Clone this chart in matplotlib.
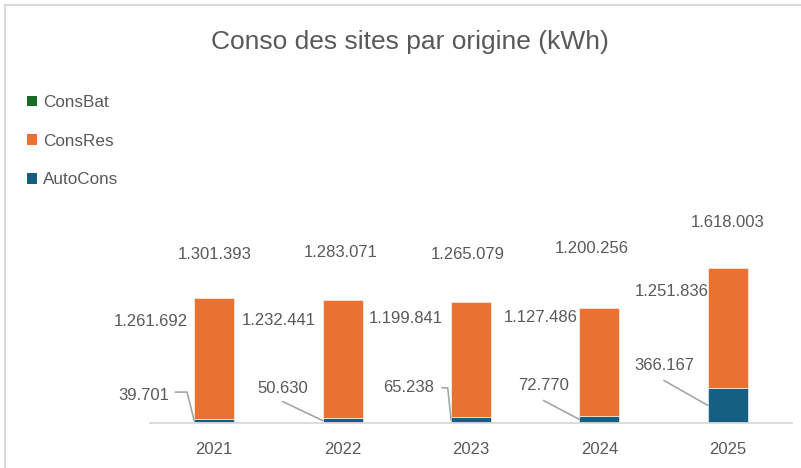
import matplotlib
matplotlib.use("Agg")
import matplotlib.pyplot as plt
from matplotlib.lines import Line2D
from matplotlib.patches import Patch
import numpy as np

# Données (kWh)
annees    = ["2021", "2022", "2023", "2024", "2025"]
autocons  = [39701, 50630, 65238, 72770, 366167]
consres   = [1261692, 1232441, 1199841, 1127486, 1251836]
consbat   = [0, 0, 0, 0, 0]

# Couleurs
C_BAT  = "#196B24"
C_RES  = "#E97132"
C_AUTO = "#156082"
C_TXT  = "#595959"
C_GRID = "#D9D9D9"
C_LEAD = "#A6A6A6"

# Décalages des étiquettes en pixels (dx, dy vers le haut)
off_total = [(0, 44), (-2, 47), (-3, 47), (-8, 59), (0, 45)]
off_res   = [(-6, -23), (-7, -21), (-8, -17), (-2, -10), (1, -24)]
off_auto  = [(-51, 26), (-40, 32), (-43, 32), (-36, 34), (-44, 40)]
lead_auto = [(-19, 29, "angle"), (-40, 19, "arc3"), (-9, 32, "angle"),
             (-36, 19, "arc3"), (-44, 25, "arc3")]
angle_b   = [104, 0, 96, 0, 0]

plt.rcParams["font.family"] = ["Liberation Sans", "DejaVu Sans"]

def fmt(v):
    return f"{v:,}".replace(",", ".")

fig = plt.figure(figsize=(8.01, 4.68), dpi=100)
W, H = 801, 468
ax = fig.add_axes([150 / W, 45 / H, 642 / W, 363 / H])

x = np.arange(len(annees))
auto = np.array(autocons)
res = np.array(consres)
bat = np.array(consbat)
total = auto + res + bat
largeur = 0.31

ax.bar(x, auto, largeur, color=C_AUTO, edgecolor="white", linewidth=0.4)
ax.bar(x, res, largeur, bottom=auto, color=C_RES, edgecolor="white", linewidth=0.4)
ax.bar(x, bat, largeur, bottom=auto + res, color=C_BAT, linewidth=0)

ax.set_xlim(-0.5, len(annees) - 0.5)
ax.set_ylim(0, 363 / 96.0 * 1e6)

for sp in ["top", "right", "left"]:
    ax.spines[sp].set_visible(False)
ax.spines["bottom"].set_color(C_GRID)
ax.spines["bottom"].set_linewidth(1.3)
ax.set_yticks([])
ax.set_xticks(x)
ax.set_xticklabels(annees)
ax.tick_params(axis="x", length=0, pad=14, labelsize=12, labelcolor=C_TXT)

for i in range(len(annees)):
    gauche = x[i] - largeur / 2
    # total au-dessus de la barre
    ax.annotate(fmt(total[i]), xy=(x[i], total[i]), xytext=off_total[i],
                textcoords="offset pixels", ha="center", va="center",
                fontsize=12, color=C_TXT)
    # ConsRes à gauche du haut de la barre
    ax.annotate(fmt(res[i]), xy=(gauche, auto[i] + res[i]), xytext=off_res[i],
                textcoords="offset pixels", ha="right", va="center",
                fontsize=12, color=C_TXT)
    # AutoCons avec trait de rappel
    ancre = (gauche, auto[i] / 2)
    ax.annotate(fmt(auto[i]), xy=ancre, xytext=off_auto[i],
                textcoords="offset pixels", ha="center", va="center",
                fontsize=12, color=C_TXT)
    dx, dy, style = lead_auto[i]
    if style == "angle":
        cs = f"angle,angleA=0,angleB={angle_b[i]},rad=0"
    else:
        cs = "arc3"
    ax.annotate("", xy=ancre, xytext=(dx, dy), textcoords="offset pixels",
                arrowprops=dict(arrowstyle="-", color=C_LEAD, lw=1.2,
                                shrinkA=0, shrinkB=0, connectionstyle=cs))

# Légende
handles = [Patch(facecolor=C_BAT, edgecolor="none"),
           Patch(facecolor=C_RES, edgecolor="none"),
           Patch(facecolor=C_AUTO, edgecolor="none")]
fig.legend(handles, ["ConsBat", "ConsRes", "AutoCons"],
           loc="upper left", bbox_to_anchor=(27 / W, 1 - 95 / H),
           frameon=False, fontsize=12.3, labelcolor=C_TXT,
           handlelength=0.6, handleheight=0.6, handletextpad=0.35,
           labelspacing=1.38, borderpad=0, borderaxespad=0)

# Titre
fig.text(410 / W, 1 - 42 / H, "Conso des sites par origine (kWh)",
         ha="center", va="center", fontsize=19, color=C_TXT)

# Bordure du graphique
fig.add_artist(Line2D([5 / W, 5 / W], [0, 1 - 5 / H], transform=fig.transFigure,
                      color=C_GRID, lw=1.5))
fig.add_artist(Line2D([5 / W, 1], [1 - 5 / H, 1 - 5 / H], transform=fig.transFigure,
                      color=C_GRID, lw=1.5))

fig.savefig("out.png", dpi=100)
